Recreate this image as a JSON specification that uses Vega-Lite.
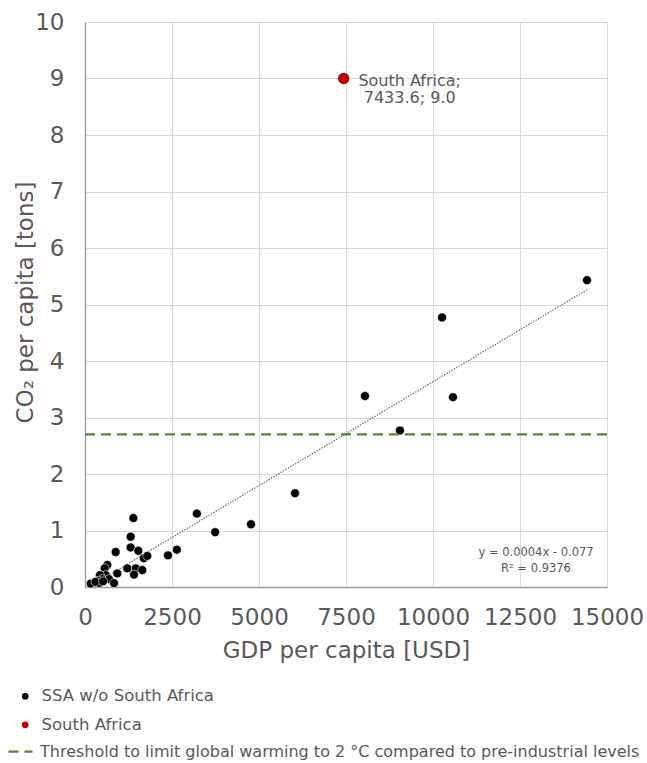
{
  "$schema": "https://vega.github.io/schema/vega-lite/v6.json",
  "width": 522,
  "height": 565,
  "autosize": {"type": "none"},
  "padding": {"left": 85, "top": 22, "right": 40, "bottom": 176},
  "background": "white",
  "config": {
    "view": {"stroke": null},
    "font": "DejaVu Sans",
    "axis": {
      "labelFont": "DejaVu Sans",
      "titleFont": "DejaVu Sans",
      "labelColor": "#595959",
      "titleColor": "#595959",
      "labelFontSize": 23,
      "titleFontSize": 23,
      "titleFontWeight": "normal",
      "ticks": false,
      "gridColor": "#d9d9d9",
      "gridWidth": 1,
      "domainColor": "#9a9a9a",
      "domainWidth": 1.3
    },
    "legend": {
      "labelFont": "DejaVu Sans",
      "labelColor": "#595959",
      "labelFontSize": 16.5,
      "padding": 0
    }
  },
  "datasets": {
    "points": [
      {"gdp": 14425, "co2": 5.43, "group": "SSA w/o South Africa"},
      {"gdp": 10260, "co2": 4.77, "group": "SSA w/o South Africa"},
      {"gdp": 8045, "co2": 3.38, "group": "SSA w/o South Africa"},
      {"gdp": 10575, "co2": 3.36, "group": "SSA w/o South Africa"},
      {"gdp": 9050, "co2": 2.77, "group": "SSA w/o South Africa"},
      {"gdp": 6035, "co2": 1.66, "group": "SSA w/o South Africa"},
      {"gdp": 4770, "co2": 1.11, "group": "SSA w/o South Africa"},
      {"gdp": 3740, "co2": 0.97, "group": "SSA w/o South Africa"},
      {"gdp": 3215, "co2": 1.30, "group": "SSA w/o South Africa"},
      {"gdp": 2640, "co2": 0.66, "group": "SSA w/o South Africa"},
      {"gdp": 2385, "co2": 0.56, "group": "SSA w/o South Africa"},
      {"gdp": 1390, "co2": 1.22, "group": "SSA w/o South Africa"},
      {"gdp": 1312, "co2": 0.89, "group": "SSA w/o South Africa"},
      {"gdp": 1312, "co2": 0.70, "group": "SSA w/o South Africa"},
      {"gdp": 1533, "co2": 0.64, "group": "SSA w/o South Africa"},
      {"gdp": 881, "co2": 0.62, "group": "SSA w/o South Africa"},
      {"gdp": 1690, "co2": 0.51, "group": "SSA w/o South Africa"},
      {"gdp": 1790, "co2": 0.55, "group": "SSA w/o South Africa"},
      {"gdp": 1216, "co2": 0.33, "group": "SSA w/o South Africa"},
      {"gdp": 1460, "co2": 0.33, "group": "SSA w/o South Africa"},
      {"gdp": 1647, "co2": 0.30, "group": "SSA w/o South Africa"},
      {"gdp": 1408, "co2": 0.22, "group": "SSA w/o South Africa"},
      {"gdp": 928, "co2": 0.24, "group": "SSA w/o South Africa"},
      {"gdp": 641, "co2": 0.39, "group": "SSA w/o South Africa"},
      {"gdp": 566, "co2": 0.33, "group": "SSA w/o South Africa"},
      {"gdp": 595, "co2": 0.21, "group": "SSA w/o South Africa"},
      {"gdp": 431, "co2": 0.21, "group": "SSA w/o South Africa"},
      {"gdp": 497, "co2": 0.14, "group": "SSA w/o South Africa"},
      {"gdp": 690, "co2": 0.14, "group": "SSA w/o South Africa"},
      {"gdp": 383, "co2": 0.11, "group": "SSA w/o South Africa"},
      {"gdp": 163, "co2": 0.06, "group": "SSA w/o South Africa"},
      {"gdp": 402, "co2": 0.07, "group": "SSA w/o South Africa"},
      {"gdp": 833, "co2": 0.07, "group": "SSA w/o South Africa"},
      {"gdp": 300, "co2": 0.09, "group": "SSA w/o South Africa"},
      {"gdp": 520, "co2": 0.10, "group": "SSA w/o South Africa"},
      {"gdp": 7433.6, "co2": 9.0, "group": "South Africa"}
    ],
    "threshold": [
      {"co2": 2.7, "series": "Threshold to limit global warming to 2 °C compared to pre-industrial levels"}
    ],
    "annotation": [
      {"gdp": 7433.6, "co2": 9.0, "label": "South Africa;\n7433.6; 9.0"}
    ],
    "equation": [
      {"gdp": 12960, "co2": 0.60, "label": "y = 0.0004x - 0.077"},
      {"gdp": 12960, "co2": 0.32, "label": "R² = 0.9376"}
    ]
  },
  "layer": [
    {
      "data": {"name": "threshold"},
      "mark": {"type": "rule", "color": "#548235", "strokeWidth": 2.25},
      "encoding": {
        "y": {"field": "co2", "type": "quantitative"},
        "strokeDash": {
          "field": "series",
          "type": "nominal",
          "scale": {"range": [[10, 6]]},
          "legend": {
            "title": null,
            "orient": "none",
            "legendX": -78,
            "legendY": 716,
            "symbolType": "stroke",
            "symbolSize": 576,
            "symbolStrokeColor": "#548235",
            "symbolStrokeWidth": 2.25,
            "labelOffset": 6,
            "labelFontSize": 16,
            "labelLimit": 1000
          }
        }
      }
    },
    {
      "data": {"name": "points"},
      "transform": [
        {"filter": "datum.group === 'SSA w/o South Africa'"},
        {"regression": "co2", "on": "gdp"}
      ],
      "mark": {"type": "line", "color": "#6f6f6f", "strokeWidth": 1.3, "strokeDash": [1.4, 1.4]},
      "encoding": {
        "x": {"field": "gdp", "type": "quantitative"},
        "y": {"field": "co2", "type": "quantitative"}
      }
    },
    {
      "data": {"name": "points"},
      "transform": [{"filter": "datum.group === 'SSA w/o South Africa'"}],
      "mark": {"type": "point", "filled": true, "size": 80, "opacity": 1, "stroke": "white", "strokeWidth": 0.6},
      "encoding": {
        "x": {
          "field": "gdp",
          "type": "quantitative",
          "scale": {"domain": [0, 15000], "nice": false, "zero": true},
          "axis": {
            "title": "GDP per capita [USD]",
            "values": [0, 2500, 5000, 7500, 10000, 12500, 15000],
            "format": "d",
            "labelPadding": 19,
            "titleY": 63,
            "titleBaseline": "middle",
            "labelFlush": false,
            "labelOverlap": false
          }
        },
        "y": {
          "field": "co2",
          "type": "quantitative",
          "scale": {"domain": [0, 10], "nice": false},
          "axis": {
            "title": "CO₂ per capita [tons]",
            "values": [0, 1, 2, 3, 4, 5, 6, 7, 8, 9, 10],
            "format": "d",
            "labelPadding": 21,
            "titleX": -60,
            "titleY": 280,
            "titleBaseline": "middle",
            "titleAlign": "center",
            "labelFlush": false,
            "labelOverlap": false
          }
        },
        "color": {
          "field": "group",
          "type": "nominal",
          "scale": {"domain": ["SSA w/o South Africa", "South Africa"], "range": ["#000000", "#c00000"]},
          "legend": {
            "title": null,
            "orient": "none",
            "legendX": -68,
            "legendY": 666,
            "symbolType": "circle",
            "symbolSize": 45,
            "symbolStrokeWidth": 0,
            "labelOffset": 8,
            "rowPadding": 11.5,
            "labelLimit": 1000
          }
        }
      }
    },
    {
      "data": {"name": "points"},
      "transform": [{"filter": "datum.group === 'South Africa'"}],
      "mark": {"type": "point", "filled": true, "size": 130, "opacity": 1},
      "encoding": {
        "x": {"field": "gdp", "type": "quantitative"},
        "y": {"field": "co2", "type": "quantitative"},
        "color": {"field": "group", "type": "nominal"}
      }
    },
    {
      "data": {"name": "annotation"},
      "mark": {"type": "text", "align": "center", "baseline": "middle", "dx": 66, "dy": 2, "fontSize": 16, "color": "#595959", "lineBreak": "\n", "lineHeight": 17.5},
      "encoding": {
        "x": {"field": "gdp", "type": "quantitative"},
        "y": {"field": "co2", "type": "quantitative"},
        "text": {"field": "label"}
      }
    },
    {
      "data": {"name": "equation"},
      "mark": {"type": "text", "align": "center", "baseline": "middle", "fontSize": 11.5, "color": "#595959"},
      "encoding": {
        "x": {"field": "gdp", "type": "quantitative"},
        "y": {"field": "co2", "type": "quantitative"},
        "text": {"field": "label"}
      }
    }
  ]
}
